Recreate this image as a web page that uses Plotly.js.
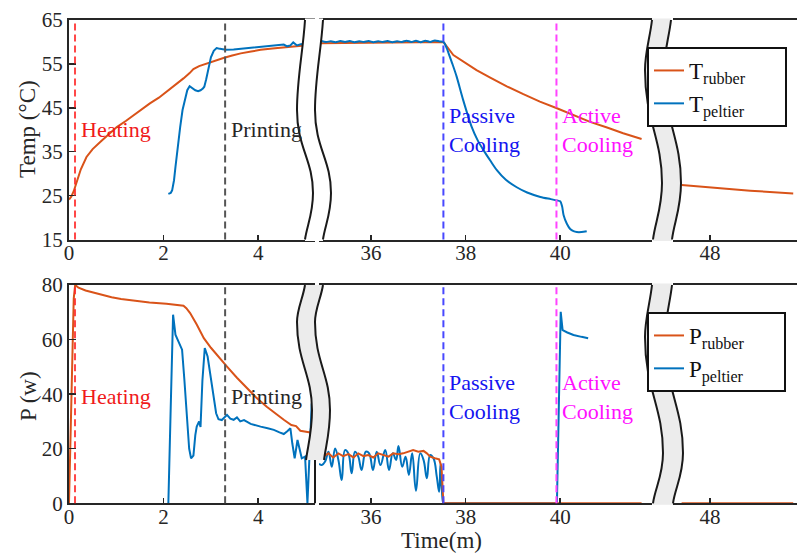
<!DOCTYPE html>
<html><head><meta charset="utf-8">
<script src="https://cdn.plot.ly/plotly-3.0.1.min.js"></script>
<style>html,body{margin:0;padding:0;background:#fff;overflow:hidden}#chart{width:797px;height:556px}</style>
</head><body><div id="chart"></div>
<script>
// ---------- DATA (time in minutes) ----------
// Top panel: temperatures (°C)
const trT1 = [0,0.05,0.1,0.16,0.25,0.37,0.5,0.66,0.85,1.01,1.2,1.36,1.55,1.71,1.9,2.07,2.25,2.42,2.55,2.63,2.75,2.91,3.1,3.28,3.45,3.63,3.85,4.05,4.3,4.54,4.75,4.89,5.05,5.2];
const trV1 = [24.1,24.8,26.0,28.2,31.0,33.8,35.6,37.2,39.0,40.6,42.0,43.3,44.7,46.0,47.3,48.7,50.2,51.7,52.9,53.8,54.5,55.1,55.8,56.4,56.9,57.4,57.8,58.2,58.5,58.7,58.9,59.0,59.2,59.4];
const trT2 = [34.9,35.5,36,36.5,37,37.53,37.74,37.95,38.23,38.52,38.87,39.22,39.57,39.93,40.28,40.63,40.99,41.33,41.72];
const trV2 = [59.7,59.8,59.9,59.9,59.9,60.0,57.0,55.5,53.6,51.9,49.9,48.1,46.4,44.9,43.4,41.8,40.5,39.2,37.9];
const trT3 = [47.40,48.0,48.85,49.76];
const trV3 = [27.4,26.8,26.1,25.5];

const tpT1 = [2.10,2.15,2.18,2.22,2.25,2.30,2.35,2.40,2.46,2.50,2.55,2.60,2.67,2.73,2.78,2.83,2.86,2.90,2.95,3.00,3.06,3.12,3.16,3.25,3.31,3.48,3.7,3.9,4.05,4.3,4.54,4.61,4.68,4.74,4.78,4.82,4.9,5.0,5.2];
const tpV1 = [25.4,25.6,26.2,28.5,31.5,36.5,40.6,44.5,47.5,49.0,49.9,49.5,49.0,48.8,49.0,49.4,49.8,51.5,54.3,56.5,58.0,58.6,58.5,58.3,58.2,58.3,58.5,58.7,58.9,59.1,59.4,59.0,59.2,59.9,59.5,59.2,59.5,59.6,59.8];
const tpT2 = [34.95,35.05,35.15,35.25,35.35,35.45,35.55,35.65,35.75,35.85,35.95,36.05,36.15,36.25,36.35,36.45,36.55,36.65,36.75,36.85,36.95,37.05,37.15,37.25,37.35,37.45,37.53,37.6,37.64,37.72,37.81,37.95,38.13,38.25,38.38,38.52,38.66,38.85,39.08,39.3,39.58,39.8,39.93,40.0,40.04,40.07,40.14,40.21,40.28,40.35,40.45,40.56];
const tpV2 = [60.2,60.0,60.15,59.95,60.2,60.0,60.2,59.95,60.15,60.0,60.2,59.95,60.15,60.0,60.2,59.95,60.15,60.0,60.3,60.0,60.25,59.95,60.3,60.0,60.35,60.1,60.0,58.6,57.4,55.0,52.1,46.7,40.6,37.7,35.3,33.0,30.8,28.6,26.9,25.7,24.7,24.2,23.9,23.7,22.5,20.6,18.6,17.4,16.9,16.7,16.7,16.9];

// Bottom panel: power (W)
const prT1 = [0,0.05,0.1,0.13,0.2,0.35,0.5,0.66,0.9,1.1,1.36,1.7,2.06,2.3,2.42,2.48,2.56,2.7,2.85,3.0,3.15,3.34,3.55,3.76,3.95,4.18,4.35,4.54,4.7,4.8,4.89,5.0,5.2];
const prV1 = [0,40,75,80,79,78,77.3,76.4,75.5,74.9,74.3,73.6,73.1,72.7,72.4,71.5,69.7,65.5,60.5,57,53.8,50.1,46,42.2,38.9,35.4,33,30.6,28.7,28.3,26.6,26.2,25.7];
const prT2 = [34.9,34.99,35.10,35.20,35.31,35.41,35.52,35.63,35.73,35.84,35.94,36.05,36.15,36.26,36.37,36.47,36.58,36.68,36.79,36.89,37.0,37.11,37.18,37.25,37.35,37.44,37.49,37.53,38,39,40,41,41.72];
const prV2 = [17.5,17.1,18.3,16.8,18.3,17.3,18.0,16.8,18.3,17.3,17.7,16.8,18.3,17.7,17.1,18.3,18.0,18.3,18.9,19.5,18.9,19.2,18.3,17.1,16.5,16.1,13.4,0,0,0,0,0,0];
const prT3 = [47.40,48.0,49.0,49.76];
const prV3 = [0,0,0,0];

const ppT1 = [2.08,2.10,2.15,2.20,2.25,2.32,2.39,2.44,2.49,2.54,2.58,2.63,2.67,2.70,2.75,2.78,2.82,2.87,2.93,3.0,3.06,3.11,3.16,3.23,3.34,3.41,3.48,3.55,3.62,3.7,3.84,3.95,4.05,4.2,4.33,4.45,4.54,4.62,4.68,4.72,4.77,4.83,4.88,4.92,4.99,5.04,5.08,5.13,5.2];
const ppV1 = [0,0,35,69.1,61.8,59.3,56.3,45,31.8,20,16.5,17.5,25,28.1,30,28,45,56.9,53.8,46,39.1,33,30.8,30.5,32.4,31,30.6,31.5,30,30.5,29.1,28.5,28.1,27.5,26.9,26.0,25.4,26.5,27.5,22,16.5,23.2,19,16.5,17.1,0,16,36.6,20];
const ppT2 = [34.9,34.96,35.03,35.10,35.17,35.24,35.31,35.38,35.45,35.52,35.59,35.66,35.73,35.80,35.89,35.96,36.04,36.12,36.20,36.30,36.38,36.46,36.53,36.58,36.66,36.73,36.80,36.87,36.95,37.04,37.11,37.18,37.25,37.32,37.39,37.44,37.47,37.52,37.54];
const ppV2 = [14.5,14.0,15.3,18.9,13.4,20.1,15.9,8.5,19.5,18.3,11.0,18.9,17.1,12.2,18.9,18.3,12.2,18.9,14.0,19.5,12.2,18.3,15.9,21.0,13.4,17.1,10.4,18.3,4.6,18.3,15.9,9.2,17.7,16.5,9.8,4.2,14.7,0.6,0];
const ppT3 = [37.54,39.93,40.01,40.05,40.15,40.28,40.45,40.59];
const ppV3 = [0,0,70.2,63.5,62.6,61.7,61.0,60.5];

// Phase events
const eventTimes  = [0.127, 3.30, 37.53, 39.92];
const eventLabels = ['Heating', 'Printing', 'Passive<br>Cooling', 'Active<br>Cooling'];
const eventSeg    = [1, 1, 2, 2];

// Tick labels
const segTicks = [[0,2,4],[36,38,40],[48]];
const tempTicks = [15,25,35,45,55,65];
const powerTicks = [0,20,40,60,80];

// ---------- STYLE ----------
const W = 797, H = 556;
const FONT = '"Liberation Serif", "Times New Roman", serif';
const ORANGE = '#D95319', BLUE = '#0072BD';
const AX = '#262626';
const eventLineColors = ['rgba(255,40,40,0.85)', '#555555', '#4848FF', '#FF44FF'];
const eventTextColors = ['#F01A1A', '#262626', '#1414F0', '#FF10FF'];
const fx = p => p / W, fy = p => 1 - p / H;
const PAD = '\u00A0\u00A0\u00A0\u00A0\u00A0\u00A0';

const segDom = [[fx(69), fx(315)], [fx(319), fx(652)], [fx(673), 1]];
const segRange = [[0, 5.2], [34.9, 41.94], [47.218, 49.84]];
const topDom = [fy(239.5), fy(20)], botDom = [fy(503.3), fy(285)];

function line(x, y, color, xa, ya, name, legend, show, smooth) {
  const ln = {color, width:2};
  if (smooth) { ln.shape = 'spline'; ln.smoothing = smooth; }
  return {x, y, type:'scatter', mode:'lines', line:ln, xaxis:xa, yaxis:ya,
          name, legend, showlegend:show, hoverinfo:'skip'};
}
const TR = 'T<sub>rubber</sub>' + PAD, TP = 'T<sub>peltier</sub>' + PAD;
const PR = 'P<sub>rubber</sub>' + PAD, PP = 'P<sub>peltier</sub>' + PAD;
const data = [
  line(trT1, trV1, ORANGE, 'x',  'y', TR, 'legend', true),
  line(trT2, trV2, ORANGE, 'x2', 'y', TR, 'legend', false),
  line(trT3, trV3, ORANGE, 'x3', 'y', TR, 'legend', false),
  line(tpT1, tpV1, BLUE,   'x',  'y', TP, 'legend', true),
  line(tpT2, tpV2, BLUE,   'x2', 'y', TP, 'legend', false, 0.8),
  line(ppT1, ppV1, BLUE,   'x4', 'y2', PP, 'legend2', false),
  line(ppT2, ppV2, BLUE,   'x5', 'y2', PP, 'legend2', false, 1.2),
  line(ppT3, ppV3, BLUE,   'x5', 'y2', PP, 'legend2', false),
  line(prT1, prV1, ORANGE, 'x4', 'y2', PR, 'legend2', true),
  line(prT2, prV2, ORANGE, 'x5', 'y2', PR, 'legend2', false),
  line(prT3, prV3, ORANGE, 'x6', 'y2', PR, 'legend2', false),
  {x:[null], y:[null], type:'scatter', mode:'lines', line:{color:BLUE, width:2}, xaxis:'x4', yaxis:'y2',
   name:PP, legend:'legend2', showlegend:true, hoverinfo:'skip'}
];

const axBase = {showgrid:false, zeroline:false, showline:true, linecolor:AX, linewidth:2,
  ticks:'inside', tickcolor:AX, tickwidth:1.5, automargin:false, fixedrange:true,
  tickfont:{family:FONT, size:21, color:AX}};

const legBase = {xanchor:'left', yanchor:'top', bgcolor:'#fff', bordercolor:'#111', borderwidth:2,
  font:{family:FONT, size:23, color:'#111'}, traceorder:'normal', tracegroupgap:0};
const layout = {
  width:W, height:H, margin:{l:0, r:0, t:0, b:0}, paper_bgcolor:'#fff', plot_bgcolor:'rgba(0,0,0,0)',
  font:{family:FONT, color:AX},
  legend:Object.assign({x:fx(647), y:fy(47)}, legBase),
  legend2:Object.assign({x:fx(647), y:fy(312)}, legBase),
  yaxis: Object.assign({}, axBase, {domain:topDom, range:[15,65], anchor:'x', tickmode:'array', tickvals:tempTicks, ticklen:7, mirror:false}),
  yaxis2:Object.assign({}, axBase, {domain:botDom, range:[0,80], anchor:'x4', tickmode:'array', tickvals:powerTicks, ticklen:7, mirror:false}),
  shapes:[], annotations:[]
};
const xNames = ['xaxis','xaxis2','xaxis3','xaxis4','xaxis5','xaxis6'];
for (let r = 0; r < 2; r++) for (let s = 0; s < 3; s++) {
  layout[xNames[r*3+s]] = Object.assign({}, axBase, {domain:segDom[s], range:segRange[s], anchor: r ? 'y2' : 'y',
    tickmode:'array', tickvals:segTicks[s], ticklen:5, mirror:true, ticklabelstandoff:-7});
}

// event dashed lines + labels
eventTimes.forEach((t, i) => {
  const s = eventSeg[i];
  [['x'+(s===1?'':s), 'y', 40], ['x'+(s+3), 'y2', 39]].forEach(([xr, yr, ly]) => {
    layout.shapes.push({type:'line', xref:xr, yref:yr+' domain', x0:t, x1:t, y0:0, y1:1,
      line:{color:eventLineColors[i], width:2, dash:'7px,4px'}, layer:'above'});
    layout.annotations.push({xref:xr, yref:yr, x:t+0.085, y:ly, text:eventLabels[i], showarrow:false,
      xanchor:'left', yanchor:'middle', align:'left', font:{family:FONT, size:22, color:eventTextColors[i]}});
  });
});

// axis titles
layout.annotations.push(
  {xref:'paper', yref:'paper', x:fx(27), y:fy(129), text:'Temp (°C)', textangle:-90, showarrow:false,
   xanchor:'center', yanchor:'middle', font:{family:FONT, size:23, color:AX}},
  {xref:'paper', yref:'paper', x:fx(28), y:fy(396), text:'P (w)', textangle:-90, showarrow:false,
   xanchor:'center', yanchor:'middle', font:{family:FONT, size:23, color:AX}},
  {xref:'paper', yref:'paper', x:fx(441.7), y:fy(540.5), text:'Time(m)', showarrow:false,
   xanchor:'center', yanchor:'middle', font:{family:FONT, size:23, color:AX}}
);

// ---------- axis-break marks (decoration, pixel paths -> paper) ----------
const toPaper = p => p.replace(/(-?[\d.]+),(-?[\d.]+)/g, (m, a, b) => fx(+a).toFixed(5) + ',' + fy(+b).toFixed(5));
function sCurve(x0, yT, yB, bulgeL, bulgeR, yL, yR, xEnd) {
  return [
    [[x0-2, yT+(yL-yT)*0.35], [bulgeL, yL-(yL-yT)*0.35], [bulgeL, yL]],
    [[bulgeL, yL+(yR-yL)*0.45], [bulgeR, yR-(yR-yL)*0.4], [bulgeR, yR]],
    [[bulgeR, yR+(yB-yR)*0.45], [xEnd+2, yB-(yB-yR)*0.3], [xEnd, yB]]
  ];
}
function pathOf(x0, yT, segs, dx) {
  let d = `M${x0+dx},${yT}`;
  segs.forEach(s => { d += ` C${s[0][0]+dx},${s[0][1]} ${s[1][0]+dx},${s[1][1]} ${s[2][0]+dx},${s[2][1]}`; });
  return d;
}
function reversePath(x0, yT, segs, dx) {
  const pts = [[x0, yT]]; segs.forEach(s => pts.push(s[2]));
  let d = '';
  for (let k = segs.length - 1; k >= 0; k--) {
    const s = segs[k], start = pts[k];
    d += ` C${s[1][0]+dx},${s[1][1]} ${s[0][0]+dx},${s[0][1]} ${start[0]+dx},${start[1]}`;
  }
  return d;
}
function addBreak(x0, yT, yB, bl, br, yL, yR, xEnd, gap, fill, ext) {
  const segs = sCurve(x0, yT, yB, bl, br, yL, yR, xEnd);
  const left = pathOf(x0, yT, segs, 0);
  const rightRev = reversePath(x0, yT, segs, gap);
  const f = `M${x0},${yT-ext} L${x0},${yT}` + left.slice(left.indexOf(' C')) +
          ` L${xEnd},${yB+ext} L${xEnd+gap},${yB+ext} L${xEnd+gap},${yB}` + rightRev +
          ` L${x0+gap},${yT-ext} Z`;
  layout.shapes.push({type:'path', xref:'paper', yref:'paper', path:toPaper(f), fillcolor:fill, line:{width:0}, layer:'above'});
  layout.shapes.push({type:'path', xref:'paper', yref:'paper', path:toPaper(left), line:{color:'#1a1a1a', width:2}, layer:'above'});
  layout.shapes.push({type:'path', xref:'paper', yref:'paper', path:toPaper(pathOf(x0, yT, segs, gap)), line:{color:'#1a1a1a', width:2}, layer:'above'});
}
addBreak(305, 20, 239.5, 297, 313, 110, 193, 305, 18, '#ffffff', 1.5);
addBreak(305, 285, 460, 297, 312, 322, 410, 306, 18, '#ececec', 0);
addBreak(652, 20, 239.5, 645, 662, 70, 183, 653, 19, '#ececec', 1.5);
addBreak(652, 285, 503.3, 645, 663, 337, 453, 653, 20, '#ececec', 1.5);
layout.shapes.push({type:'line', xref:'paper', yref:'paper', x0:fx(315), x1:fx(315), y0:fy(460), y1:fy(503.3),
  line:{color:'#1a1a1a', width:2}, layer:'above'});

Plotly.newPlot('chart', data, layout, {staticPlot:true, displayModeBar:false});
</script></body></html>
